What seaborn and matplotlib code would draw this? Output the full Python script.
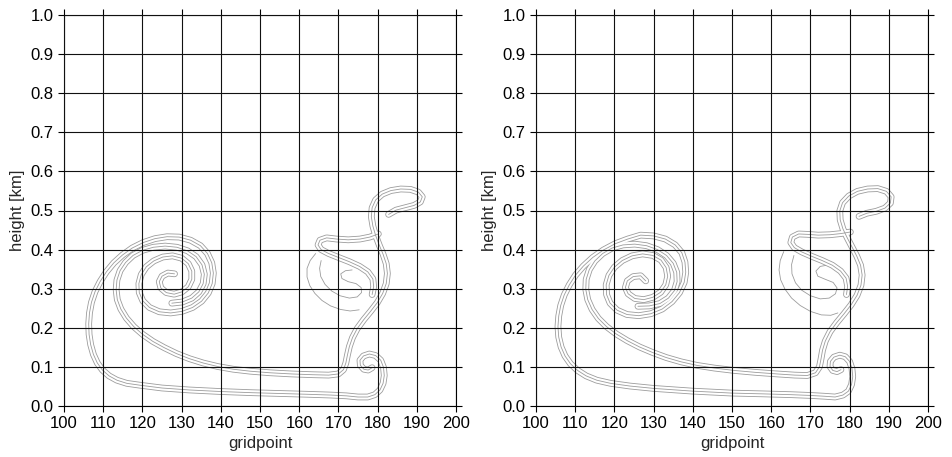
import numpy as np
import pandas as pd
import seaborn as sns
import matplotlib.pyplot as plt

# ---- left panel: centre lines of the tracer filaments (gridpoint, km) ----
# bottom curl + lower tail + outer loop + inner spiral turn
left_arm1_x = [178.6, 177.6, 176.5, 175.6, 175.5, 176.4, 177.9, 179.5, 180.8, 181.5,
               181.7, 181.4, 180.6, 179.3, 177.5, 175.0, 172.0, 168.0, 162.0, 155.0,
               148.0, 140.0, 132.0, 125.0, 119.5, 116.0, 113.5, 111.5, 109.8, 108.5,
               107.5, 106.8, 106.4, 106.3, 106.5, 107.0, 107.9, 109.2, 110.8, 112.7,
               114.9, 117.4, 120.2, 123.2, 126.3, 129.4, 132.3, 134.8, 136.6, 137.7,
               138.1, 137.8, 136.8, 135.1, 132.8, 130.1, 127.2, 124.3, 121.8, 120.1,
               119.2, 119.1, 119.7, 121.0, 122.9, 125.2, 127.7, 130.0, 131.7, 132.6,
               132.6, 131.7, 130.1, 128.1, 126.1, 124.7, 124.3, 125.0, 126.5, 128.2]
left_arm1_y = [0.098, 0.092, 0.094, 0.104, 0.117, 0.128, 0.133, 0.129, 0.117, 0.099,
               0.078, 0.058, 0.041, 0.029, 0.023, 0.023, 0.026, 0.028, 0.030, 0.032,
               0.034, 0.037, 0.041, 0.046, 0.053, 0.058, 0.066, 0.077, 0.092, 0.110,
               0.132, 0.157, 0.183, 0.210, 0.238, 0.265, 0.292, 0.318, 0.343, 0.366,
               0.386, 0.404, 0.418, 0.428, 0.433, 0.432, 0.424, 0.410, 0.390, 0.366,
               0.340, 0.313, 0.289, 0.268, 0.252, 0.242, 0.238, 0.241, 0.252, 0.269,
               0.290, 0.313, 0.336, 0.356, 0.371, 0.381, 0.384, 0.378, 0.364, 0.345,
               0.324, 0.305, 0.292, 0.286, 0.290, 0.302, 0.318, 0.332, 0.340, 0.338]
# spiral arm + diagonal + upper tail + stem + neck + head
left_arm2_x = [127.5, 130.2, 132.6, 134.4, 135.5, 135.8, 135.2, 133.7, 131.5, 128.8,
               125.8, 122.8, 120.0, 117.6, 115.7, 114.3, 113.5, 113.3, 113.6, 114.5,
               115.9, 117.8, 120.1, 122.7, 125.6, 128.7, 132.0, 135.5, 139.2, 143.2,
               147.5, 152.5, 158.0, 163.5, 167.5, 170.0, 171.3, 171.9, 172.3, 172.8,
               173.6, 174.8, 176.4, 178.2, 179.9, 181.3, 182.2, 182.5, 182.2, 181.4,
               180.4, 179.5, 178.8, 178.4, 178.6, 179.5, 181.2, 183.4, 185.9, 188.4,
               190.4, 191.4, 190.9, 189.3, 187.0, 184.7, 182.8]
left_arm2_y = [0.263, 0.266, 0.276, 0.292, 0.313, 0.337, 0.361, 0.382, 0.397, 0.406,
               0.409, 0.406, 0.398, 0.385, 0.367, 0.346, 0.322, 0.297, 0.272, 0.248,
               0.225, 0.203, 0.183, 0.165, 0.149, 0.134, 0.121, 0.110, 0.101, 0.094,
               0.089, 0.085, 0.082, 0.080, 0.079, 0.082, 0.093, 0.110, 0.130, 0.152,
               0.175, 0.198, 0.220, 0.242, 0.264, 0.288, 0.313, 0.339, 0.364, 0.388,
               0.412, 0.436, 0.460, 0.484, 0.507, 0.527, 0.542, 0.551, 0.555, 0.554,
               0.547, 0.535, 0.522, 0.513, 0.507, 0.501, 0.490]
# s-shaped middle arm
left_arm3_x = [180.2, 178.0, 175.5, 172.5, 169.5, 167.0, 165.3, 164.8, 165.6, 167.5,
               170.0, 172.8, 175.4, 177.5, 178.8, 179.0, 178.6]
left_arm3_y = [0.440, 0.432, 0.427, 0.425, 0.427, 0.430, 0.424, 0.412, 0.400, 0.390,
               0.380, 0.369, 0.357, 0.343, 0.325, 0.305, 0.285]
# left lobe, single contours
left_lobe1_x = [164.2, 162.8, 162.0, 162.0, 162.7, 164.0, 165.8, 168.0, 170.5, 173.0, 175.3]
left_lobe1_y = [0.390, 0.372, 0.352, 0.330, 0.308, 0.288, 0.270, 0.256, 0.247, 0.243, 0.246]
left_lobe2_x = [165.6, 165.2, 165.5, 166.6, 168.3, 170.4, 172.8, 174.8, 175.9, 175.8,
                174.5, 172.5, 170.9, 170.6, 171.8, 173.5]
left_lobe2_y = [0.372, 0.352, 0.331, 0.311, 0.294, 0.282, 0.276, 0.279, 0.290, 0.303,
                0.313, 0.318, 0.326, 0.338, 0.346, 0.348]

# ---- right panel ----
right_arm1_x = [177.8, 176.8, 175.7, 175.0, 175.1, 176.0, 177.5, 178.9, 180.0, 180.6,
                180.8, 180.5, 179.7, 178.3, 176.3, 173.5, 170.0, 165.0, 158.0, 150.0,
                140.0, 130.0, 124.0, 119.0, 115.5, 112.8, 110.6, 108.8, 107.4, 106.4,
                105.8, 105.6, 105.8, 106.3, 107.2, 108.5, 110.1, 112.1, 114.5, 117.2,
                120.2, 123.4, 126.7, 130.0, 133.0, 135.5, 137.2, 138.0, 138.2, 137.8,
                136.6, 134.7, 132.2, 129.3, 126.2, 123.2, 120.7, 118.9, 118.0, 117.9,
                118.6, 120.0, 122.0, 124.5, 127.2, 129.8, 131.9, 133.2, 133.6, 133.1,
                131.8, 129.8, 127.5, 125.2, 123.5, 122.8, 123.3, 124.8, 126.7, 128.0]
right_arm1_y = [0.093, 0.088, 0.091, 0.101, 0.114, 0.125, 0.130, 0.126, 0.114, 0.096,
                0.075, 0.055, 0.038, 0.028, 0.023, 0.025, 0.027, 0.029, 0.031, 0.033,
                0.038, 0.045, 0.051, 0.058, 0.066, 0.077, 0.091, 0.108, 0.128, 0.151,
                0.176, 0.203, 0.230, 0.257, 0.284, 0.310, 0.335, 0.358, 0.380, 0.399,
                0.415, 0.427, 0.437, 0.435, 0.427, 0.412, 0.392, 0.368, 0.342, 0.316,
                0.290, 0.267, 0.248, 0.236, 0.231, 0.234, 0.245, 0.263, 0.285, 0.310,
                0.334, 0.355, 0.372, 0.384, 0.389, 0.385, 0.373, 0.354, 0.332, 0.310,
                0.291, 0.278, 0.272, 0.275, 0.287, 0.303, 0.320, 0.331, 0.333, 0.320]
right_arm2_x = [126.0, 128.9, 131.6, 133.8, 135.3, 136.0, 135.9, 135.0, 133.3, 131.0,
                128.2, 125.2, 122.2, 119.4, 117.0, 115.0, 113.6, 112.8, 112.7, 113.2,
                114.3, 115.9, 118.0, 120.5, 123.3, 126.4, 129.7, 133.2, 137.0, 141.0,
                145.5, 150.5, 156.0, 161.5, 166.0, 169.2, 171.3, 172.3, 172.7, 173.1,
                173.8, 175.0, 176.7, 178.6, 180.4, 181.9, 182.9, 183.2, 182.8, 181.8,
                180.6, 179.4, 178.3, 177.6, 177.5, 178.2, 179.8, 182.0, 184.6, 187.2,
                189.4, 190.6, 190.4, 189.0, 186.8, 184.4, 182.4]
right_arm2_y = [0.255, 0.256, 0.262, 0.276, 0.295, 0.318, 0.342, 0.365, 0.385, 0.400,
                0.410, 0.414, 0.412, 0.404, 0.390, 0.371, 0.349, 0.324, 0.298, 0.272,
                0.247, 0.224, 0.203, 0.184, 0.167, 0.151, 0.137, 0.124, 0.113, 0.104,
                0.097, 0.091, 0.086, 0.082, 0.079, 0.078, 0.085, 0.100, 0.120, 0.143,
                0.166, 0.190, 0.213, 0.236, 0.259, 0.283, 0.309, 0.335, 0.360, 0.384,
                0.407, 0.430, 0.453, 0.476, 0.499, 0.520, 0.537, 0.549, 0.555, 0.556,
                0.549, 0.535, 0.519, 0.506, 0.498, 0.493, 0.485]
right_arm3_x = [180.2, 177.8, 175.0, 172.0, 169.2, 167.0, 165.4, 165.0, 165.9, 167.8,
                170.3, 173.0, 175.6, 177.7, 179.1, 179.5, 179.2]
right_arm3_y = [0.445, 0.441, 0.438, 0.437, 0.439, 0.440, 0.432, 0.418, 0.405, 0.394,
                0.383, 0.372, 0.360, 0.345, 0.327, 0.306, 0.285]
right_lobe1_x = [163.2, 162.3, 162.0, 162.4, 163.5, 165.2, 167.4, 170.0, 172.8, 175.2, 177.0]
right_lobe1_y = [0.395, 0.372, 0.348, 0.323, 0.299, 0.276, 0.257, 0.242, 0.233, 0.232, 0.238]
right_lobe2_x = [165.8, 165.2, 165.3, 166.2, 167.8, 170.0, 172.5, 174.8, 176.4, 176.8,
                 175.8, 173.8, 171.9, 171.4, 172.5, 174.2]
right_lobe2_y = [0.385, 0.362, 0.338, 0.315, 0.296, 0.282, 0.274, 0.276, 0.287, 0.302,
                 0.316, 0.324, 0.332, 0.345, 0.357, 0.360]

x_ticks = list(range(100, 201, 10))
y_ticks = [0.0, 0.1, 0.2, 0.3, 0.4, 0.5, 0.6, 0.7, 0.8, 0.9, 1.0]

GREY = '#9c9c9c'
T = 0.6    # width of one contour line (pt)
S = 2.1    # distance between neighbouring contour lines (pt)


def strokes(n):
    """grey / white strokes that leave n parallel lines round a centre path"""
    out = []
    k = n - 1
    while k > 0:
        out.append((k * S + T, GREY))
        out.append((k * S - T, 'white'))
        k -= 2
    if n % 2:
        out.append((T, GREY))
    return out


def draw_panel(ax, bands):
    layers = max(len(strokes(n)) for _, _, n in bands)
    # layer by layer, so touching filaments merge like real contours
    for i in range(layers):
        for xs, ys, n in bands:
            st = strokes(n)
            if i >= len(st):
                continue
            lw, c = st[i]
            sns.lineplot(x=xs, y=ys, sort=False, estimator=None, color=c,
                         linewidth=lw, solid_capstyle='round',
                         solid_joinstyle='round', ax=ax)
    ax.set_xlim(100, 200)
    ax.set_ylim(0, 1)
    ax.set_xticks(x_ticks)
    ax.set_yticks(y_ticks)
    ax.set_yticklabels([f'{v:.1f}' for v in y_ticks])
    ax.set_axisbelow(False)
    ax.grid(True, color='#111111', linewidth=0.8)
    ax.tick_params(direction='out', length=4, width=0.8, top=True, right=True,
                   labeltop=False, labelright=False, colors='black', labelsize=12)
    for sp in ax.spines.values():
        sp.set_visible(True)
        sp.set_color('black')
        sp.set_linewidth(0.8)
    ax.set_xlabel('gridpoint', fontsize=12, labelpad=3)
    ax.set_ylabel('height [km]', fontsize=12, labelpad=4)


sns.set_style('ticks')
plt.rcParams['font.family'] = ['Liberation Sans', 'DejaVu Sans']

fig = plt.figure(figsize=(9.53, 4.57), dpi=100)
ax1 = fig.add_axes([64 / 953, 51 / 457, 392 / 953, 391 / 457])
ax2 = fig.add_axes([536 / 953, 51 / 457, 392 / 953, 391 / 457])

draw_panel(ax1, [(left_arm1_x, left_arm1_y, 3), (left_arm2_x, left_arm2_y, 3),
                 (left_arm3_x, left_arm3_y, 3), (left_lobe1_x, left_lobe1_y, 1),
                 (left_lobe2_x, left_lobe2_y, 1)])
draw_panel(ax2, [(right_arm1_x, right_arm1_y, 3), (right_arm2_x, right_arm2_y, 3),
                 (right_arm3_x, right_arm3_y, 3), (right_lobe1_x, right_lobe1_y, 1),
                 (right_lobe2_x, right_lobe2_y, 1)])

fig.savefig('out.png', dpi=100)
